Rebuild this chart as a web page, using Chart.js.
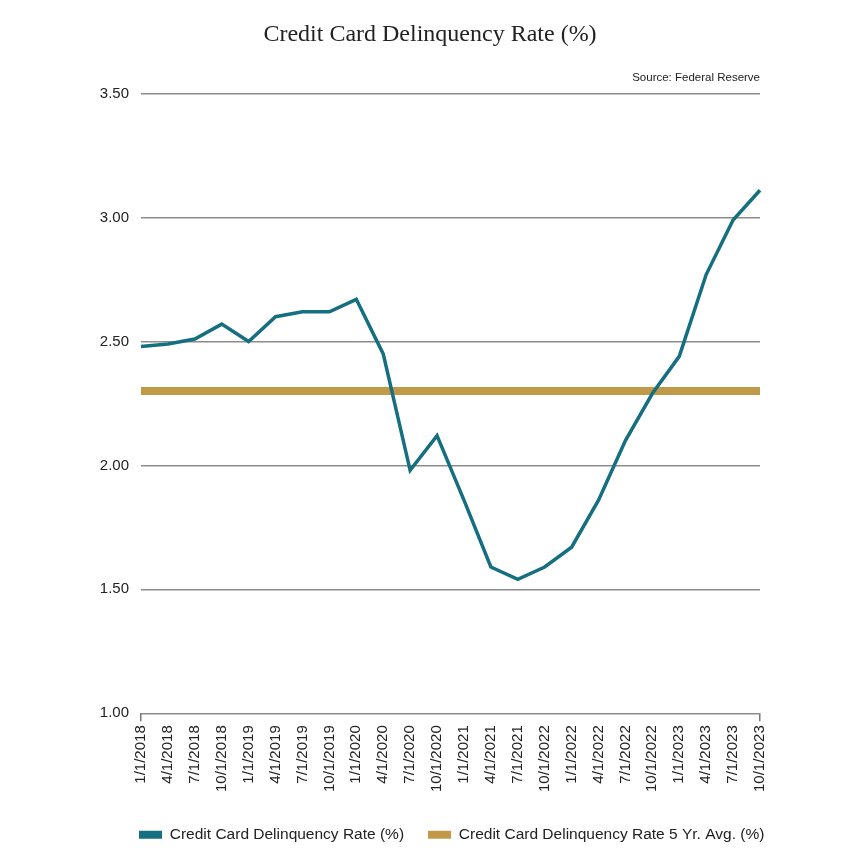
<!DOCTYPE html>
<html>
<head>
<meta charset="utf-8">
<script src="https://cdn.jsdelivr.net/npm/chart.js@4.4.1/dist/chart.umd.min.js"></script>
<style>
html,body{margin:0;padding:0;background:#fff;}
#wrap{width:860px;height:860px;}
</style>
</head>
<body>
<div id="wrap"><canvas id="c" width="860" height="860"></canvas></div>
<script>
const categories = ["1/1/2018","4/1/2018","7/1/2018","10/1/2018","1/1/2019","4/1/2019","7/1/2019","10/1/2019","1/1/2020","4/1/2020","7/1/2020","10/1/2020","1/1/2021","4/1/2021","7/1/2021","10/1/2022","1/1/2022","4/1/2022","7/1/2022","10/1/2022","1/1/2023","4/1/2023","7/1/2023","10/1/2023"];
const delinquencyRate = [2.48,2.49,2.51,2.57,2.50,2.60,2.62,2.62,2.67,2.45,1.98,2.12,1.86,1.59,1.54,1.59,1.67,1.86,2.10,2.29,2.44,2.77,2.99,3.11];
const fiveYearAvg = [2.30,2.30,2.30,2.30,2.30,2.30,2.30,2.30,2.30,2.30,2.30,2.30,2.30,2.30,2.30,2.30,2.30,2.30,2.30,2.30,2.30,2.30,2.30,2.30];
const yTicks = [1.00,1.50,2.00,2.50,3.00,3.50];
const titleText = "Credit Card Delinquency Rate (%)";
const sourceText = "Source: Federal Reserve";

const SANS = "'Liberation Sans', Arial, sans-serif";
const SERIF = "'Liberation Serif', 'DejaVu Serif', serif";
const LEGEND_GAP = 24;      // horizontal space between legend items
const LEGEND_RESERVE = 64;  // vertical space reserved for the legend
const LEGEND_ROW_TOP = 827; // top of the legend row

const legendPlacePlugin = {
  id: 'legendPlace',
  beforeInit(chart) {
    const lg = chart.legend;
    if (!lg) return;
    const orig = lg.fit;
    lg.fit = function () {
      orig.call(this);
      this.height = LEGEND_RESERVE;
    };
  },
  afterLayout(chart) {
    const lg = chart.legend;
    if (!lg) return;
    lg.left = chart.chartArea.left - 2 - LEGEND_GAP;
    lg.right = chart.width;
    lg.width = lg.right - lg.left;
    lg.top = LEGEND_ROW_TOP - LEGEND_GAP;
    lg.bottom = chart.height;
    lg.height = lg.bottom - lg.top;
  }
};

new Chart(document.getElementById('c'), {
  type: 'line',
  data: {
    labels: categories,
    datasets: [
      { label: "Credit Card Delinquency Rate (%)", data: delinquencyRate, borderColor: '#166f80', backgroundColor: '#166f80', borderWidth: 3.5, pointRadius: 0, tension: 0, order: 0 },
      { label: "Credit Card Delinquency Rate 5 Yr. Avg. (%)", data: fiveYearAvg, borderColor: '#c09a48', backgroundColor: '#c09a48', borderWidth: 8, pointRadius: 0, tension: 0, order: 1 }
    ]
  },
  plugins: [legendPlacePlugin],
  options: {
    responsive: false,
    animation: false,
    layout: { padding: { left: 100, right: 100, top: 8, bottom: 0 } },
    plugins: {
      title: { display: true, text: titleText, color: '#222', font: { family: SERIF, size: 24, weight: 'normal' }, padding: { top: 12, bottom: 18 } },
      subtitle: { display: true, text: sourceText, align: 'end', color: '#222', font: { family: SANS, size: 11.5 }, padding: { top: 4, bottom: 9 } },
      legend: {
        position: 'bottom', align: 'start',
        labels: {
          boxWidth: 23, boxHeight: 8, color: '#222', font: { family: SANS, size: 15.5 }, padding: LEGEND_GAP,
          generateLabels: (chart) => Chart.defaults.plugins.legend.labels.generateLabels(chart).map(l => Object.assign(l, { lineWidth: 0 }))
        }
      },
      tooltip: { enabled: false }
    },
    scales: {
      x: {
        offset: false,
        grid: { drawOnChartArea: false, drawTicks: true, tickLength: 8, lineWidth: 1.5, color: (ctx) => (ctx.index === 0 || ctx.index === categories.length - 1) ? '#777' : 'rgba(0,0,0,0)' },
        border: { display: false },
        ticks: { autoSkip: false, minRotation: 90, maxRotation: 90, color: '#222', font: { family: SANS, size: 15 }, padding: 4 }
      },
      y: {
        min: 1, max: 3.5,
        afterBuildTicks: (axis) => { axis.ticks = yTicks.map(v => ({ value: v })); },
        afterFit: (axis) => { axis.width = 41; },
        grid: { color: '#8c8c8c', lineWidth: 1.5, drawTicks: false },
        border: { display: false },
        ticks: { color: '#222', font: { family: SANS, size: 15 }, padding: 12, callback: (v) => Number(v).toFixed(2) }
      }
    }
  }
});
</script>
</body>
</html>
